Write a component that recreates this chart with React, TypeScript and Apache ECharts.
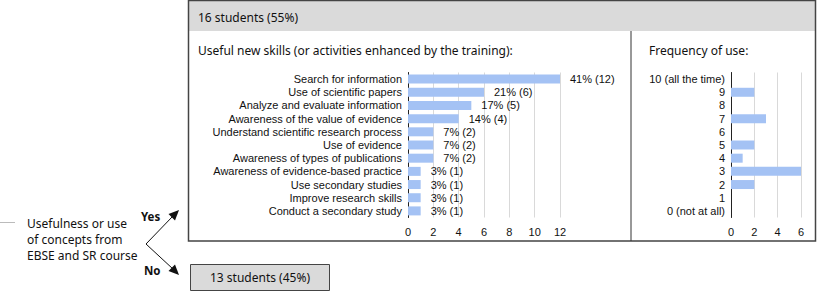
import React, { useEffect, useRef } from "react";
import * as echarts from "echarts";

const skillCategories = [
  "Search for information",
  "Use of scientific papers",
  "Analyze and evaluate information",
  "Awareness of the value of evidence",
  "Understand scientific research process",
  "Use of evidence",
  "Awareness of types of publications",
  "Awareness of evidence-based practice",
  "Use secondary studies",
  "Improve research skills",
  "Conduct a secondary study",
];
const skillCounts = [12, 6, 5, 4, 2, 2, 2, 1, 1, 1, 1];
const skillPercents = ["41%", "21%", "17%", "14%", "7%", "7%", "7%", "3%", "3%", "3%", "3%"];

const freqCategories = ["10 (all the time)", "9", "8", "7", "6", "5", "4", "3", "2", "1", "0 (not at all)"];
const freqCounts = [0, 2, 0, 3, 0, 2, 1, 6, 2, 0, 0];

const headerYes = "16 students (55%)";
const headerNo = "13 students (45%)";
const skillsTitle = "Useful new skills (or activities enhanced by the training):";
const freqTitle = "Frequency of use:";
const questionLines = ["Usefulness or use", "of concepts from", "EBSE and SR course"];

const labelFont = "'Liberation Sans', Arial, sans-serif";
const textFont = "'Noto Sans', sans-serif";
const barColor = "#a4c2f4";

export default function App() {
  const ref = useRef<HTMLDivElement>(null);
  useEffect(() => {
    document.body.style.margin = "0";
    const chart = echarts.init(ref.current!, null, { renderer: "svg" });
    const catAxis = (data: string[], gridIndex: number) => ({
      type: "category" as const,
      gridIndex,
      data,
      inverse: true,
      axisLine: { show: true, lineStyle: { color: "#222", width: 1 } },
      axisTick: { show: false },
      axisLabel: { color: "#111", fontFamily: labelFont, fontSize: 11, margin: 6, interval: 0 },
    });
    const valAxis = (max: number, gridIndex: number) => ({
      type: "value" as const,
      gridIndex,
      min: 0,
      max,
      interval: 2,
      axisLine: { show: false },
      axisTick: { show: false },
      axisLabel: { color: "#111", fontFamily: labelFont, fontSize: 11, margin: 9 },
      splitLine: { show: true, lineStyle: { color: "#d9d9d9", width: 1 } },
    });
    chart.setOption({
      animation: false,
      grid: [
        { left: 408, top: 72.5, width: 152, height: 145 },
        { left: 731, top: 72.5, width: 70, height: 145 },
      ],
      xAxis: [valAxis(12, 0), valAxis(6, 1)],
      yAxis: [catAxis(skillCategories, 0), catAxis(freqCategories, 1)],
      series: [
        {
          type: "bar",
          xAxisIndex: 0,
          yAxisIndex: 0,
          data: skillCounts,
          barWidth: 9,
          itemStyle: { color: barColor },
          label: {
            show: true,
            position: "right",
            distance: 10,
            color: "#111",
            fontFamily: labelFont,
            fontSize: 11,
            formatter: (p: any) => `${skillPercents[p.dataIndex]} (${p.value})`,
          },
        },
        {
          type: "bar",
          xAxisIndex: 1,
          yAxisIndex: 1,
          data: freqCounts,
          barWidth: 9,
          itemStyle: { color: barColor },
        },
      ],
      graphic: [
        { type: "rect", shape: { x: 189, y: 1, width: 626, height: 30 }, style: { fill: "#dadada" }, z: -1 },
        { type: "rect", shape: { x: 188.5, y: 0.5, width: 627, height: 240.5 }, style: { fill: "none", stroke: "#444", lineWidth: 1.5 } },
        { type: "line", shape: { x1: 631, y1: 31, x2: 631, y2: 241 }, style: { stroke: "#333", lineWidth: 1 } },
        { type: "text", x: 198, y: 17, style: { text: headerYes, font: `12px ${textFont}`, fill: "#111", verticalAlign: "middle" } },
        { type: "text", x: 198, y: 50, style: { text: skillsTitle, font: `12px ${textFont}`, fill: "#111", verticalAlign: "middle" } },
        { type: "text", x: 649, y: 50, style: { text: freqTitle, font: `12px ${textFont}`, fill: "#111", verticalAlign: "middle" } },
        { type: "line", shape: { x1: 0, y1: 222.5, x2: 15, y2: 222.5 }, style: { stroke: "#bbb", lineWidth: 1 } },
        ...questionLines.map((t, i) => ({
          type: "text",
          x: 27,
          y: 223 + i * 16,
          style: { text: t, font: `12px ${textFont}`, fill: "#111", verticalAlign: "middle" },
        })),
        { type: "text", x: 141, y: 216, style: { text: "Yes", font: `bold 11.5px ${textFont}`, fill: "#111", verticalAlign: "middle" } },
        { type: "text", x: 144, y: 270, style: { text: "No", font: `bold 11.5px ${textFont}`, fill: "#111", verticalAlign: "middle" } },
        { type: "line", shape: { x1: 146, y1: 244, x2: 173, y2: 216 }, style: { stroke: "#111", lineWidth: 1 } },
        { type: "line", shape: { x1: 146, y1: 244, x2: 173, y2: 269 }, style: { stroke: "#111", lineWidth: 1 } },
        { type: "polygon", shape: { points: [[179, 210], [175, 220.5], [168.5, 214]] }, style: { fill: "#111" } },
        { type: "polygon", shape: { points: [[179, 275], [168.5, 271], [175, 264.5]] }, style: { fill: "#111" } },
        { type: "rect", shape: { x: 190.5, y: 264.5, width: 139, height: 26 }, style: { fill: "#dadada", stroke: "#444", lineWidth: 1 } },
        { type: "text", x: 260, y: 277.5, style: { text: headerNo, font: `12px ${textFont}`, fill: "#111", align: "center", verticalAlign: "middle" } },
      ],
    });
    return () => chart.dispose();
  }, []);
  return <div ref={ref} style={{ width: 817, height: 293 }} />;
}
